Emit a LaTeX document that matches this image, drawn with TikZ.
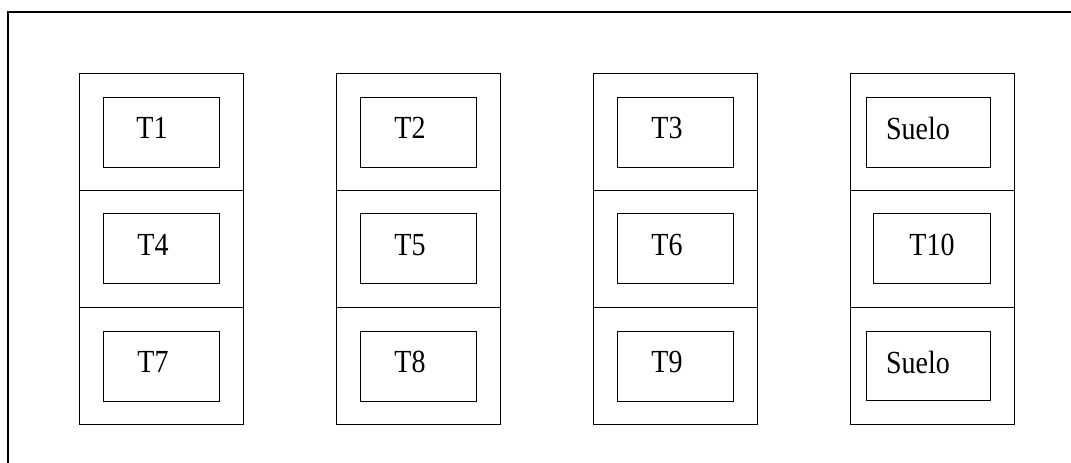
\documentclass[tikz,border=0pt]{standalone}
\usepackage{fontspec}
\usepackage{graphicx}
\setmainfont{Liberation Serif}
\begin{document}
\begin{tikzpicture}[x=1pt,y=-1pt,
  frame/.style={draw, line width=1.8pt},
  cell/.style={draw, line width=1.3pt, minimum width=164pt, minimum height=117pt, inner sep=0pt, anchor=north west},
  inbox/.style={draw, line width=1.3pt, minimum height=70pt, inner sep=0pt, anchor=north west},
  lbl/.style={font=\fontsize{28pt}{30pt}\selectfont, inner sep=0pt}]
\useasboundingbox (0,0) rectangle (1071,463);
% frame (top and left edges)
\coordinate (fa) at (8,463);
\coordinate (fb) at (8,12);
\coordinate (fc) at (1071,12);
\draw[frame] (fa) -- (fb) -- (fc);
% column cells
\foreach \c/\x in {1/79,2/336,3/593,4/850}{
  \foreach \r/\y in {1/73,2/190,3/307}{
    \node[cell] (c\c r\r) at (\x,\y) {};
  }
}
% inner boxes, columns 1-3
\foreach \c/\x in {1/103,2/360,3/617}{
  \node[inbox, minimum width=116pt] (b\c r1) at (\x,97) {};
  \node[inbox, minimum width=116pt] (b\c r2) at (\x,213) {};
  \node[inbox, minimum width=116pt] (b\c r3) at (\x,331) {};
}
% column 4 inner boxes
\node[inbox, minimum width=124pt] (b4r1) at (866,97) {};
\node[inbox, minimum width=117pt] (b4r2) at (873,213) {};
\node[inbox, minimum width=124pt, minimum height=69pt] (b4r3) at (866,331) {};
% labels
\node[lbl] (t1) at (152,128) {\scalebox{1}[1.15]{T1}};
\node[lbl] (t2) at (410,128) {\scalebox{1}[1.15]{T2}};
\node[lbl] (t3) at (667,128) {\scalebox{1}[1.15]{T3}};
\node[lbl] (s1) at (918,128) {\scalebox{1}[1.15]{Suelo}};
\node[lbl] (t4) at (153,245) {\scalebox{1}[1.15]{T4}};
\node[lbl] (t5) at (410,245) {\scalebox{1}[1.15]{T5}};
\node[lbl] (t6) at (667,245) {\scalebox{1}[1.15]{T6}};
\node[lbl] (t10) at (932,245) {\scalebox{1}[1.15]{T10}};
\node[lbl] (t7) at (153,362) {\scalebox{1}[1.15]{T7}};
\node[lbl] (t8) at (410,362) {\scalebox{1}[1.15]{T8}};
\node[lbl] (t9) at (667,362) {\scalebox{1}[1.15]{T9}};
\node[lbl] (s2) at (918,362) {\scalebox{1}[1.15]{Suelo}};
\end{tikzpicture}
\end{document}
